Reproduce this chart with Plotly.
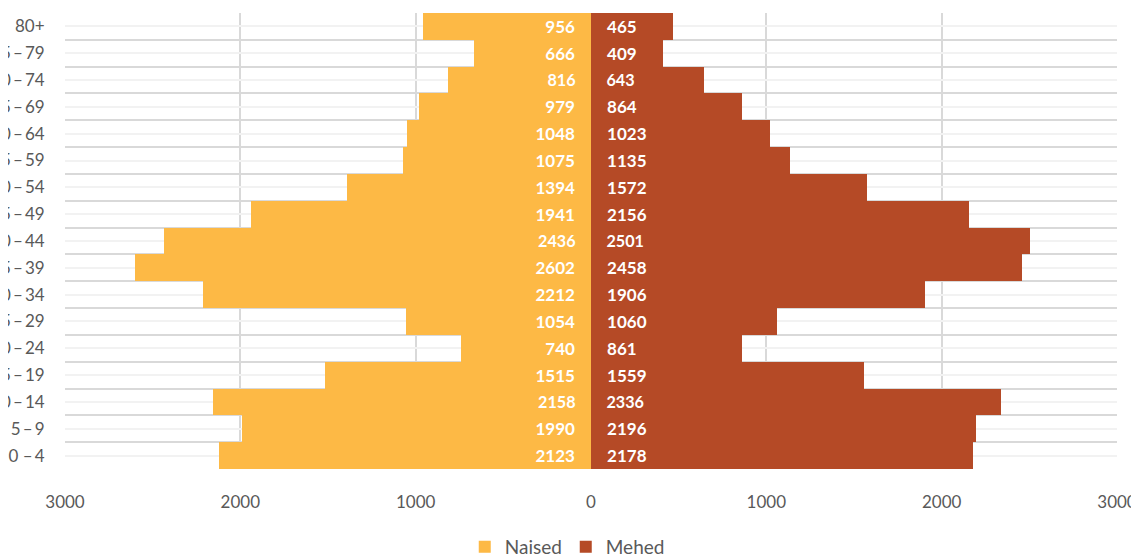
import plotly.graph_objects as go

age_groups = ["0 \u2013\u20094", "5\u2009\u2013\u20099", "10\u2009\u2013\u200914", "15\u2009\u2013\u200919",
              "20\u2009\u2013\u200924", "25\u2009\u2013\u200929", "30\u2009\u2013\u200934",
              "35\u2009\u2013\u200939", "40\u2009\u2013\u200944", "45\u2009\u2013\u200949",
              "50\u2009\u2013\u200954", "55\u2009\u2013\u200959", "60\u2009\u2013\u200964",
              "65\u2009\u2013\u200969", "70\u2009\u2013\u200974", "75\u2009\u2013\u200979", "80+"]
naised = [2123, 1990, 2158, 1515, 740, 1054, 2212, 2602, 2436, 1941, 1394, 1075, 1048, 979, 816, 666, 956]
mehed = [2178, 2196, 2336, 1559, 861, 1060, 1906, 2458, 2501, 2156, 1572, 1135, 1023, 864, 643, 409, 465]
x_ticks = [-3000, -2000, -1000, 0, 1000, 2000, 3000]
x_tick_text = ["3000", "2000", "1000", "0", "1000", "2000", "3000"]

pos = list(range(len(age_groups)))
grey = "#595959"
pad = "\u00a0\u00a0\u00a0"

fig = go.Figure()
fig.add_trace(go.Bar(
    y=pos, x=[-v for v in naised], orientation="h", name="Naised",
    marker=dict(color="#FDB945", line=dict(width=0)),
    text=[str(v) for v in naised], texttemplate="<b>%{text}</b>" + pad,
    textposition="inside", insidetextanchor="start",
    textfont=dict(color="white", size=17, family="Lato"),
    hoverinfo="skip",
))
fig.add_trace(go.Bar(
    y=pos, x=mehed, orientation="h", name="Mehed",
    marker=dict(color="#B54A26", line=dict(width=0)),
    text=[str(v) for v in mehed], texttemplate=pad + "<b>%{text}</b>",
    textposition="inside", insidetextanchor="start",
    textfont=dict(color="white", size=17, family="Lato"),
    hoverinfo="skip",
))

fig.update_layout(
    width=1131, height=547,
    margin=dict(l=57, r=22, t=5, b=86, autoexpand=False),
    paper_bgcolor="white", plot_bgcolor="white",
    barmode="overlay", bargap=0,
    font=dict(family="Lato", color=grey),
    legend=dict(orientation="h", x=0.476, xanchor="center",
                y=-0.171, yanchor="middle", font=dict(size=19, color=grey),
                itemwidth=30, entrywidth=56, traceorder="normal"),
    uniformtext=dict(mode=False),
)
fig.update_xaxes(
    range=[-3000, 3000], tickvals=x_ticks, ticktext=x_tick_text,
    showgrid=True, gridcolor="#D9D9D9", gridwidth=2, zeroline=False,
    ticks="outside", ticklen=18, tickcolor="rgba(0,0,0,0)",
    tickfont=dict(size=17, color=grey), showline=False, automargin=False,
)
fig.update_yaxes(
    range=[-0.5, len(age_groups) - 0.5], tickvals=pos, ticktext=age_groups,
    showgrid=True, gridcolor="#F2F2F2", gridwidth=2, zeroline=False,
    ticks="outside", ticklen=16, tickcolor="rgba(0,0,0,0)",
    tickfont=dict(size=17, color=grey), automargin=False,
    minor=dict(tickvals=[p - 0.5 for p in pos] + [len(age_groups) - 0.5],
               showgrid=True, gridcolor="#D9D9D9", gridwidth=2, ticks=""),
)

fig.write_html("out.html")
